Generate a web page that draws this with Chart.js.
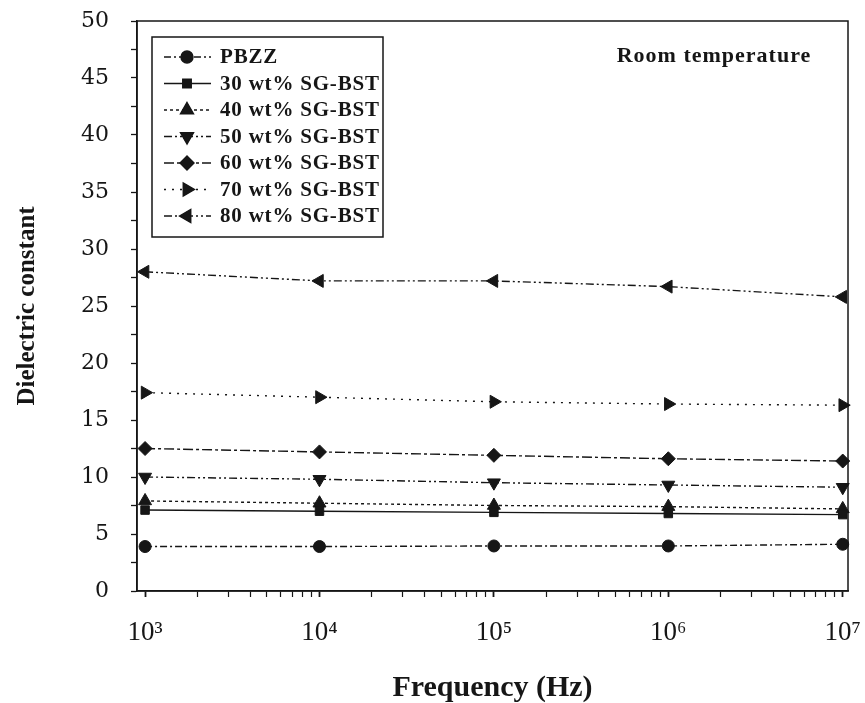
<!DOCTYPE html>
<html>
<head>
<meta charset="utf-8">
<script src="https://cdn.jsdelivr.net/npm/chart.js@4.4.1/dist/chart.umd.min.js"></script>
<style>
  html, body { margin: 0; padding: 0; background: #fff; }
</style>
</head>
<body>
<canvas id="graficoDieletrico" width="865" height="703"></canvas>
<script>
// dados (frequencia em Hz)
const frequencias = [1e3, 1e4, 1e5, 1e6, 1e7];
const nomesSeries = ['PBZZ', '30 wt% SG-BST', '40 wt% SG-BST', '50 wt% SG-BST',
                     '60 wt% SG-BST', '70 wt% SG-BST', '80 wt% SG-BST'];
const pbzz   = [3.9, 3.9, 3.95, 3.95, 4.1];
const sgbst30 = [7.1, 7.0, 6.9, 6.8, 6.7];
const sgbst40 = [7.9, 7.7, 7.5, 7.4, 7.2];
const sgbst50 = [10.0, 9.8, 9.5, 9.3, 9.1];
const sgbst60 = [12.5, 12.2, 11.9, 11.6, 11.4];
const sgbst70 = [17.4, 17.0, 16.6, 16.4, 16.3];
const sgbst80 = [28.0, 27.2, 27.2, 26.7, 25.8];
const ticksY = [0, 5, 10, 15, 20, 25, 30, 35, 40, 45, 50];
const decadas = [3, 4, 5, 6, 7];

const corLinha = '#161616';
const expoentes = { 3: '\u00B3', 4: '\u2074', 5: '\u2075', 6: '\u2076', 7: '\u2077' };

// estilo de cada serie (marcador + tracejado)
const estilos = [
  { pointStyle: 'circle',   rotation: 0,   radius: 6,   dash: [7, 3, 2, 3] },
  { pointStyle: 'rect',     rotation: 0,   radius: 6,   dash: [] },
  { pointStyle: 'triangle', rotation: 0,   radius: 7.5, dash: [3, 3] },
  { pointStyle: 'triangle', rotation: 180, radius: 7.5, dash: [8, 3, 2, 3, 2, 3] },
  { pointStyle: 'rectRot',  rotation: 0,   radius: 7,   dash: [10, 3, 3, 3] },
  { pointStyle: 'triangle', rotation: 90,  radius: 7.5, dash: [2, 6] },
  { pointStyle: 'triangle', rotation: 270, radius: 7.5, dash: [8, 3, 2, 3, 2, 3] }
];
const valores = [pbzz, sgbst30, sgbst40, sgbst50, sgbst60, sgbst70, sgbst80];

const datasets = valores.map((serie, i) => ({
  label: nomesSeries[i],
  data: serie.map((v, j) => ({ x: frequencias[j], y: v })),
  borderColor: corLinha,
  borderWidth: 1.4,
  borderDash: estilos[i].dash,
  backgroundColor: corLinha,
  pointStyle: estilos[i].pointStyle,
  rotation: estilos[i].rotation,
  pointRadius: estilos[i].radius,
  pointBackgroundColor: corLinha,
  pointBorderColor: corLinha,
  pointBorderWidth: 1,
  tension: 0,
  clip: false
}));

// moldura em volta da area do grafico
const moldura = {
  id: 'moldura',
  afterDraw(chart) {
    const { ctx, chartArea: a } = chart;
    ctx.save();
    ctx.strokeStyle = corLinha;
    ctx.lineWidth = 1.5;
    ctx.strokeRect(a.left, a.top, a.right - a.left, a.bottom - a.top);
    ctx.restore();
  }
};

// legenda dentro do grafico + texto "Room temperature"
const legendaInterna = {
  id: 'legendaInterna',
  afterDraw(chart) {
    const ctx = chart.ctx;
    const caixa = { x: 152, y: 37, w: 231, h: 200 };
    ctx.save();
    ctx.fillStyle = '#fff';
    ctx.fillRect(caixa.x, caixa.y, caixa.w, caixa.h);
    ctx.strokeStyle = corLinha;
    ctx.lineWidth = 1.5;
    ctx.strokeRect(caixa.x, caixa.y, caixa.w, caixa.h);

    chart.data.datasets.forEach((ds, i) => {
      const y = 57 + i * 26.5;
      ctx.strokeStyle = corLinha;
      ctx.lineWidth = 1.4;
      ctx.setLineDash(ds.borderDash);
      ctx.beginPath();
      ctx.moveTo(164, y);
      ctx.lineTo(211, y);
      ctx.stroke();
      ctx.setLineDash([]);
      Chart.helpers.drawPoint(ctx, {
        pointStyle: ds.pointStyle,
        rotation: ds.rotation,
        radius: ds.pointRadius,
        borderWidth: 1
      }, 187, y);
      ctx.fillStyle = corLinha;
      ctx.fill();
      ctx.font = 'bold 21px "Liberation Serif"';
      ctx.letterSpacing = '0.8px';
      ctx.textBaseline = 'middle';
      ctx.textAlign = 'left';
      ctx.fillText(ds.label, 220, y + 1);
    });

    ctx.font = 'bold 22px "Liberation Serif"';
    ctx.letterSpacing = '1px';
    ctx.textAlign = 'center';
    ctx.textBaseline = 'middle';
    ctx.fillStyle = corLinha;
    ctx.fillText('Room temperature', 714, 56);
    ctx.restore();
  }
};

const ctx = document.getElementById('graficoDieletrico').getContext('2d');

const graficoDieletrico = new Chart(ctx, {
  type: 'line',
  data: { datasets: datasets },
  options: {
    responsive: false,
    animation: false,
    layout: { padding: { top: 21, right: 17, left: 0, bottom: 0 } },
    plugins: {
      legend: { display: false },
      tooltip: { enabled: false }
    },
    scales: {
      x: {
        type: 'logarithmic',
        min: 899,
        max: 1.072e7,
        afterBuildTicks: (scale) => {
          const lista = [];
          decadas.forEach((d) => {
            const kMax = d === 7 ? 1 : 9;
            for (let k = 1; k <= kMax; k++) lista.push({ value: k * Math.pow(10, d) });
          });
          scale.ticks = lista;
        },
        afterFit: (scale) => {
          scale.height = 112;
          scale.paddingLeft = 0;
          scale.paddingRight = 0;
        },
        ticks: {
          autoSkip: false,
          maxRotation: 0,
          padding: 20,
          color: corLinha,
          font: { family: '"Liberation Serif"', size: 27 },
          callback: (valor) => {
            const e = Math.round(Math.log10(valor));
            return Math.abs(valor - Math.pow(10, e)) < 1e-6 * valor ? '10' + expoentes[e] : '';
          }
        },
        grid: {
          drawOnChartArea: false,
          drawTicks: true,
          tickLength: 6,
          tickColor: corLinha,
          tickWidth: (c) => (c.tick && c.tick.label ? 1.8 : 1.2)
        },
        border: { display: true, color: corLinha, width: 1.5 },
        title: {
          display: true,
          text: 'Frequency (Hz)',
          color: corLinha,
          font: { family: '"Liberation Serif"', size: 30, weight: 'bold', lineHeight: 1.0 },
          padding: { top: 0, bottom: 0 }
        }
      },
      y: {
        min: 0,
        max: 50,
        afterBuildTicks: (scale) => {
          const lista = [];
          ticksY.forEach((v, i) => {
            lista.push({ value: v });
            if (i < ticksY.length - 1) lista.push({ value: v + 2.5 });
          });
          scale.ticks = lista;
        },
        afterFit: (scale) => {
          scale.width = 137;
          scale.paddingTop = 0;
          scale.paddingBottom = 0;
        },
        ticks: {
          autoSkip: false,
          padding: 22,
          color: corLinha,
          font: { family: '"DejaVu Serif"', size: 22 },
          callback: (valor) => (ticksY.includes(valor) ? valor : '')
        },
        grid: {
          drawOnChartArea: false,
          drawTicks: true,
          tickLength: 6,
          tickColor: corLinha,
          tickWidth: 1.3
        },
        border: { display: true, color: corLinha, width: 1.5 },
        title: {
          display: true,
          text: 'Dielectric constant',
          color: corLinha,
          font: { family: '"Liberation Serif"', size: 25, weight: 'bold' },
          padding: { top: 13, bottom: 0 }
        }
      }
    }
  },
  plugins: [moldura, legendaInterna]
});
</script>
</body>
</html>
